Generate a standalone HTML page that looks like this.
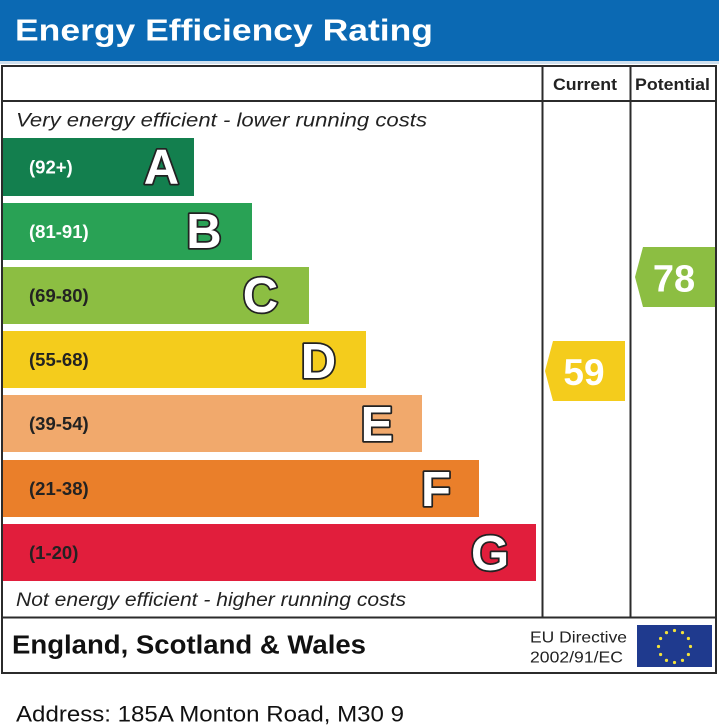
<!DOCTYPE html>
<html><head><meta charset="utf-8"><style>
html,body{margin:0;padding:0;background:#fff;}
svg{display:block;}
text{font-family:"Liberation Sans",Arial,sans-serif;}
</style></head><body>
<svg width="719" height="728" viewBox="0 0 719 728" xmlns="http://www.w3.org/2000/svg">
<rect x="0" y="0" width="719" height="728" fill="#fff"/>
<rect x="0" y="0" width="719" height="61" fill="#0b69b3"/>
<rect x="0" y="61" width="719" height="3" fill="#cfe0ee"/>
<text x="15" y="40.5" font-size="31" font-weight="bold" fill="#fff" textLength="418" lengthAdjust="spacingAndGlyphs">Energy Efficiency Rating</text>

<!-- table lines -->
<g stroke="#2b2b2b" stroke-width="2" fill="none">
<rect x="2" y="66" width="714" height="607"/>
<line x1="2" y1="101" x2="716" y2="101"/>
<line x1="542.5" y1="66" x2="542.5" y2="617"/>
<line x1="630.5" y1="66" x2="630.5" y2="617"/>
<line x1="2" y1="617.5" x2="716" y2="617.5"/>
</g>
<text x="553" y="90" font-size="16.5" font-weight="bold" fill="#222" textLength="64" lengthAdjust="spacingAndGlyphs">Current</text>
<text x="635" y="90" font-size="16.5" font-weight="bold" fill="#222" textLength="75" lengthAdjust="spacingAndGlyphs">Potential</text>

<text x="16" y="126.5" font-size="19.5" font-style="italic" fill="#222" textLength="411" lengthAdjust="spacingAndGlyphs">Very energy efficient - lower running costs</text>

<!-- bars -->
<rect x="3" y="138" width="191" height="58" fill="#137f4e"/>
<rect x="3" y="203" width="249" height="57" fill="#29a255"/>
<rect x="3" y="267" width="306" height="57" fill="#8cbe42"/>
<rect x="3" y="331" width="363" height="57" fill="#f4cc1c"/>
<rect x="3" y="395" width="419" height="57" fill="#f1a96c"/>
<rect x="3" y="460" width="476" height="57" fill="#ea7f2a"/>
<rect x="3" y="524" width="533" height="57" fill="#e11e3c"/>

<g font-size="18.5" font-weight="bold">
<text x="29" y="173.5" fill="#fff">(92+)</text>
<text x="29" y="238" fill="#fff">(81-91)</text>
<text x="29" y="302" fill="#222">(69-80)</text>
<text x="29" y="366" fill="#222">(55-68)</text>
<text x="29" y="430" fill="#222">(39-54)</text>
<text x="29" y="495" fill="#222">(21-38)</text>
<text x="29" y="559" fill="#222">(1-20)</text>
</g>

<g font-size="49" font-weight="bold" fill="#fff" stroke="#222" stroke-width="3.5" paint-order="stroke" stroke-linejoin="round" text-anchor="middle">
<text x="161.5" y="183.5">A</text>
<text x="204" y="248">B</text>
<text x="260.5" y="312">C</text>
<text x="318.5" y="378">D</text>
<text x="377" y="441">E</text>
<text x="436" y="506">F</text>
<text x="490" y="570">G</text>
</g>

<!-- arrows -->
<polygon points="545,371 553,341 625,341 625,401 553,401" fill="#f4cc1c"/>
<text x="584" y="385" font-size="37" font-weight="bold" fill="#fff" text-anchor="middle">59</text>
<polygon points="635,277 643,247 715,247 715,307 643,307" fill="#8cbe42"/>
<text x="674" y="291.5" font-size="38" font-weight="bold" fill="#fff" text-anchor="middle">78</text>

<text x="16" y="606" font-size="19" font-style="italic" fill="#222" textLength="390" lengthAdjust="spacingAndGlyphs">Not energy efficient - higher running costs</text>

<!-- footer -->
<text x="12" y="653.5" font-size="25.5" font-weight="bold" fill="#111" textLength="354" lengthAdjust="spacingAndGlyphs">England, Scotland &amp; Wales</text>
<text x="530" y="642.5" font-size="16" fill="#222" textLength="97" lengthAdjust="spacingAndGlyphs">EU Directive</text>
<text x="530" y="662.5" font-size="16" fill="#222" textLength="93" lengthAdjust="spacingAndGlyphs">2002/91/EC</text>
<rect x="637" y="625" width="75" height="42" fill="#1f3a8e"/>
<g fill="#f3e23a">
<circle cx="674.5" cy="630.5" r="1.6"/>
<circle cx="682.5" cy="632.6" r="1.6"/>
<circle cx="688.4" cy="638.5" r="1.6"/>
<circle cx="690.5" cy="646.5" r="1.6"/>
<circle cx="688.4" cy="654.5" r="1.6"/>
<circle cx="682.5" cy="660.4" r="1.6"/>
<circle cx="674.5" cy="662.5" r="1.6"/>
<circle cx="666.5" cy="660.4" r="1.6"/>
<circle cx="660.6" cy="654.5" r="1.6"/>
<circle cx="658.5" cy="646.5" r="1.6"/>
<circle cx="660.6" cy="638.5" r="1.6"/>
<circle cx="666.5" cy="632.6" r="1.6"/>
</g>

<text x="16" y="721.5" font-size="22" fill="#111" textLength="388" lengthAdjust="spacingAndGlyphs">Address: 185A Monton Road, M30 9</text>
</svg>
</body></html>
